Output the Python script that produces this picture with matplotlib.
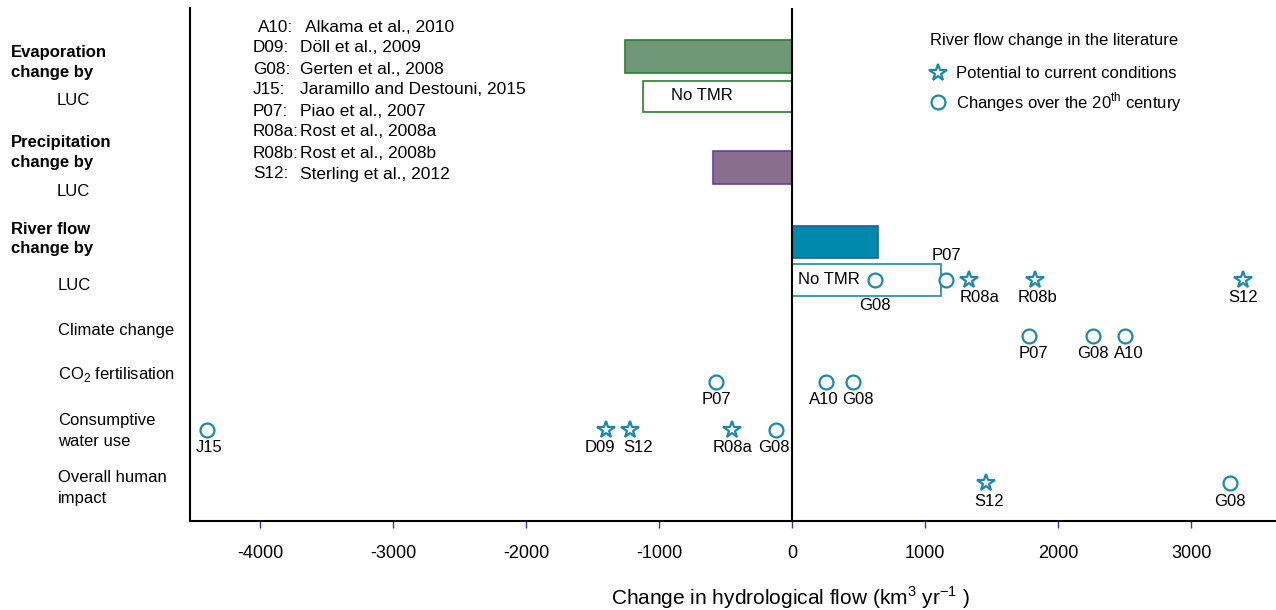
import numpy as np
import matplotlib
matplotlib.use("Agg")
import matplotlib.pyplot as plt

plt.rcParams['font.family'] = ['Liberation Sans', 'DejaVu Sans']

mk_col = '#1b8aa8'

# bars: (value, y top, y bottom, face, edge)
bar_vals = [-1255, -1120, -594, 647, 1120]
bar_rows = [(40, 73), (81, 112), (151, 184), (226, 258), (264, 296)]
bar_face = ['#6e9878', 'white', '#8a6e90', '#0088ad', 'white']
bar_edge = ['#2e7d32', '#2e7d32', '#6a3fa0', '#1f5fa0', mk_col]

# markers per row
row_y = {'luc': 280, 'clim': 336, 'co2': 382, 'cons': 430, 'over': 483}
pts_x = [624, 1158, 1331, 1827, 3391,
         1782, 2263, 2504,
         -571, 256, 459,
         -4398, -1398, -1218, -451, -120,
         1459, 3293]
pts_row = ['luc'] * 5 + ['clim'] * 3 + ['co2'] * 3 + ['cons'] * 5 + ['over'] * 2
pts_kind = ['o', 'o', '*', '*', '*',
            'o', 'o', 'o',
            'o', 'o', 'o',
            'o', '*', '*', '*', 'o',
            '*', 'o']
pts_lab = ['G08', 'P07', 'R08a', 'R08b', 'S12',
           'P07', 'G08', 'A10',
           'P07', 'A10', 'G08',
           'J15', 'D09', 'S12', 'R08a', 'G08',
           'S12', 'G08']
# label nudges (x in data units, y in rows)
lab_dx = [0, 0, 80, 20, 0,
          30, 0, 25,
          0, -15, 35,
          15, -50, 60, 0, -20,
          20, 0]
lab_dy = [25, -25, 18, 18, 18,
          18, 18, 18,
          17, 17, 17,
          18, 18, 18, 18, 18,
          18, 18]

refs_code = ['A10:', 'D09:', 'G08:', 'J15:', 'P07:', 'R08a:', 'R08b:', 'S12:']
refs_name = ['Alkama et al., 2010', 'Döll et al., 2009', 'Gerten et al., 2008',
             'Jaramillo and Destouni, 2015', 'Piao et al., 2007', 'Rost et al., 2008a',
             'Rost et al., 2008b', 'Sterling et al., 2012']

xticks = [-4000, -3000, -2000, -1000, 0, 1000, 2000, 3000]

W, H = 1276, 610
fig = plt.figure(figsize=(W / 100, H / 100), dpi=100)
ax = fig.add_axes([190 / W, (H - 521) / H, (1276 - 190) / W, (521 - 8) / H])
ax.set_xlim(-4526, 3637)
ax.set_ylim(521, 8)

for v, (t, b), fc, ec in zip(bar_vals, bar_rows, bar_face, bar_edge):
    ax.barh((t + b) / 2, v, height=b - t, left=0, color=fc, edgecolor=ec, linewidth=1.2, zorder=2)

ax.text(-1120 + 210, 96, 'No TMR', fontsize=12, va='center', ha='left')
ax.text(45, 280, 'No TMR', fontsize=12, va='center', ha='left')

ax.axvline(0, color='black', lw=1.5, zorder=3)

for x, r, k, lab, dx, dy in zip(pts_x, pts_row, pts_kind, pts_lab, lab_dx, lab_dy):
    y = row_y[r]
    ms = 13 if k == '*' else 10
    ax.plot(x, y, marker=k, ms=ms, mfc='white', mec=mk_col, mew=1.6, ls='none', zorder=4)
    ax.text(x + dx, y + dy, lab, fontsize=12, ha='center', va='center')

for sp in ['top', 'right']:
    ax.spines[sp].set_visible(False)
ax.spines['left'].set_linewidth(1.5)
ax.spines['bottom'].set_linewidth(1.5)
ax.set_yticks([])
ax.set_xticks(xticks)
ax.set_xticklabels([str(t) for t in xticks])
ax.tick_params(axis='x', direction='out', length=5, width=1, color='#3a3aa0',
               labelsize=13, pad=12)
fig.text(790 / W, 1 - 598 / H, 'Change in hydrological flow (km$^{\\mathregular{3}}$ yr$^{\\mathregular{-1}}$ )',
         fontsize=15, ha='center', va='center')

# reference list
for i, (c, n) in enumerate(zip(refs_code, refs_name)):
    y = 27 + i * 21
    dx = 5 if i == 0 else 0
    fig.text((253 + dx) / W, 1 - y / H, c, fontsize=12.3, va='center')
    fig.text((300 + dx) / W, 1 - y / H, n, fontsize=12.5, va='center')

# legend
fig.text(930 / W, 1 - 40 / H, 'River flow change in the literature', fontsize=12, va='center')
ax.plot(1100, 73, marker='*', ms=13, mfc='white', mec=mk_col, mew=1.6, ls='none')
ax.plot(1100, 102, marker='o', ms=10, mfc='white', mec=mk_col, mew=1.6, ls='none')
fig.text(956 / W, 1 - 73 / H, 'Potential to current conditions', fontsize=12, va='center')
fig.text(956 / W, 1 - 102 / H, 'Changes over the 20$^{\\mathregular{th}}$ century', fontsize=12, va='center')

# row labels
bold = [('Evaporation', 52), ('change by', 72), ('Precipitation', 142), ('change by', 163),
        ('River flow', 229), ('change by', 249)]
for t, y in bold:
    fig.text(11 / W, 1 - y / H, t, fontsize=12, fontweight='bold', va='center')
plain = [('LUC', 57, 101), ('LUC', 57, 191), ('LUC', 58, 286), ('Climate change', 58, 330),
         ('CO$_{\\mathregular{2}}$ fertilisation', 58, 374), ('Consumptive', 58, 420),
         ('water use', 58, 441), ('Overall human', 58, 478), ('impact', 58, 498)]
for t, x, y in plain:
    fig.text(x / W, 1 - y / H, t, fontsize=12, va='center')

fig.savefig('out.png', dpi=100)
